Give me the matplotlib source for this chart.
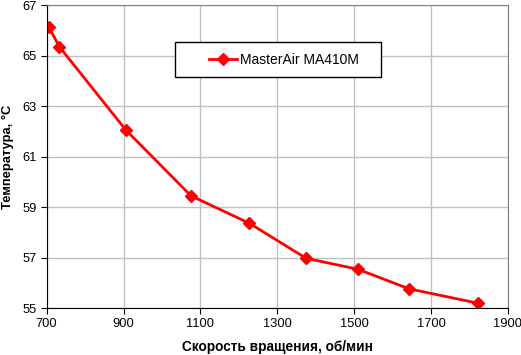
import matplotlib
matplotlib.use("Agg")
import matplotlib.pyplot as plt
from matplotlib.patches import Rectangle

plt.rcParams['font.family'] = ['Liberation Sans', 'DejaVu Sans']

# Fan speed (rpm) and temperature (C)
speed = [706, 733, 906, 1075, 1227, 1375, 1509, 1643, 1823]
temp = [66.13, 65.36, 62.06, 59.46, 58.37, 56.98, 56.55, 55.77, 55.2]
series_name = "MasterAir MA410M"

fig = plt.figure(figsize=(5.21, 3.55), dpi=100)
ax = fig.add_axes([0.0896, 0.1315, 0.8854, 0.8535])

ax.plot(speed, temp, color='#ff0000', lw=2, marker='D', ms=6,
        markerfacecolor='#ff0000', markeredgecolor='#ff0000', label=series_name)

ax.set_xlim(700, 1900)
ax.set_ylim(55, 67)
ax.set_xticks(range(700, 1901, 200))
ax.set_yticks(range(55, 68, 2))
ax.grid(True, color='#c0c0c0', lw=1)
ax.set_axisbelow(True)

for s in ['top', 'right']:
    ax.spines[s].set_color('#808080')
for s in ['left', 'bottom']:
    ax.spines[s].set_color('black')
ax.tick_params(direction='out', length=4, labelsize=9.3, pad=3)

ax.set_xlabel("Скорость вращения, об/мин", fontsize=9.8, fontweight='bold', labelpad=7)
ax.set_ylabel("Температура, °С", fontsize=9.3, fontweight='bold', labelpad=6)

# legend box drawn by hand so the padding matches the original
ax.add_patch(Rectangle((0.278, 0.763), 0.447, 0.116, transform=ax.transAxes,
                       facecolor='white', edgecolor='black', lw=1, zorder=5))
leg = ax.legend(loc='center left', bbox_to_anchor=(0.352, 0.821), fontsize=10,
                frameon=False, handlelength=2.0, handletextpad=0.25,
                borderpad=0, borderaxespad=0)
leg.set_zorder(6)

fig.savefig("out.png", dpi=100)
